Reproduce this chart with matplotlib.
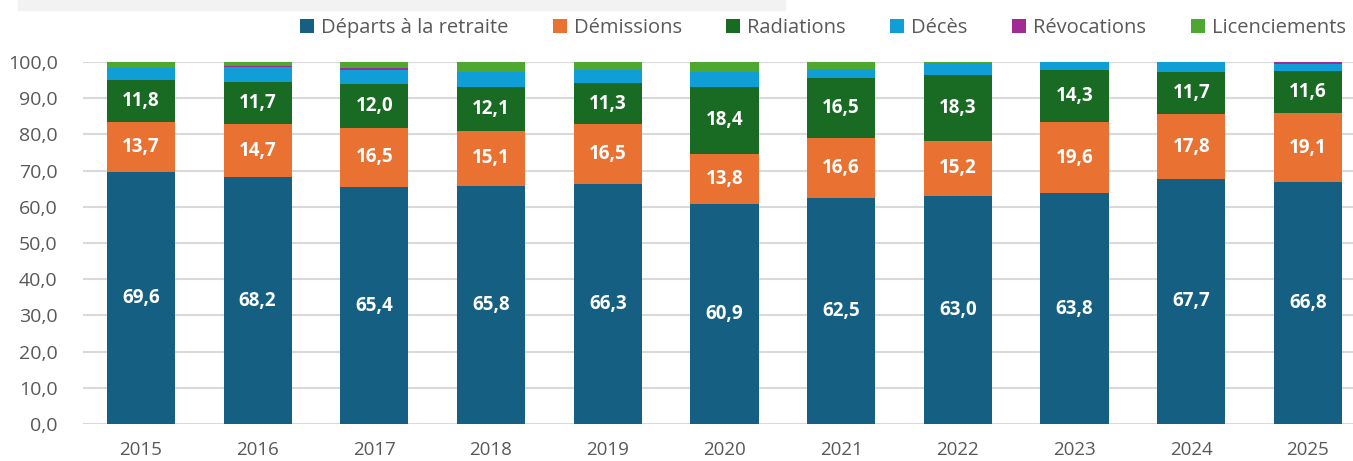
import matplotlib.pyplot as plt
import numpy as np
from matplotlib.patches import Rectangle

plt.rcParams['font.family'] = ['Open Sans', 'DejaVu Sans']

years = ['2015', '2016', '2017', '2018', '2019', '2020', '2021', '2022', '2023', '2024', '2025']
departs = [69.6, 68.2, 65.4, 65.8, 66.3, 60.9, 62.5, 63.0, 63.8, 67.7, 66.8]
demissions = [13.7, 14.7, 16.5, 15.1, 16.5, 13.8, 16.6, 15.2, 19.6, 17.8, 19.1]
radiations = [11.8, 11.7, 12.0, 12.1, 11.3, 18.4, 16.5, 18.3, 14.3, 11.7, 11.6]
deces = [3.3, 3.9, 3.9, 4.1, 3.8, 4.1, 2.5, 3.2, 2.2, 2.7, 1.9]
revocations = [0.0, 0.4, 0.5, 0.0, 0.0, 0.0, 0.0, 0.0, 0.0, 0.0, 0.6]
licenciements = [1.6, 1.1, 1.7, 2.9, 2.1, 2.8, 1.9, 0.3, 0.1, 0.1, 0.0]

series = [
    ('Départs à la retraite', departs, '#156082', True),
    ('Démissions', demissions, '#E97132', True),
    ('Radiations', radiations, '#196B24', True),
    ('Décès', deces, '#0F9ED5', False),
    ('Révocations', revocations, '#A02B93', False),
    ('Licenciements', licenciements, '#4EA72E', False),
]

fig = plt.figure(figsize=(13.53, 4.61), dpi=100)
# bandeau gris du titre (coupé)
fig.patches.append(Rectangle((18 / 1353, 1 - 10 / 461), 767 / 1353, 10 / 461,
                             transform=fig.transFigure, color='#F2F2F2', zorder=0))

ax = fig.add_axes([82.6 / 1353, 1 - 424 / 461, 1283.7 / 1353, 362 / 461])

x = np.arange(len(years))
bottom = np.zeros(len(years))
for name, vals, color, show in series:
    vals = np.array(vals)
    ax.bar(x, vals, 0.585, bottom=bottom, color=color, label=name, zorder=2)
    if show:
        for xi, b, v in zip(x, bottom, vals):
            ax.text(xi, b + v / 2, f'{v:.1f}'.replace('.', ','), ha='center', va='center',
                    color='white', fontsize=13.5, fontweight='bold', zorder=3)
    bottom += vals

ax.set_xlim(-0.5, len(years) - 0.5)
ax.set_ylim(0, 100)
ax.set_yticks(np.arange(0, 101, 10))
ax.set_yticklabels([f'{v:.1f}'.replace('.', ',') for v in np.arange(0, 101, 10)])
ax.set_xticks(x)
ax.set_xticklabels(years)
ax.tick_params(axis='both', length=0, labelsize=14, colors='#595959')
ax.tick_params(axis='x', labelsize=13.5, pad=12)
ax.tick_params(axis='y', pad=18)
ax.grid(axis='y', color='#D9D9D9', linewidth=1.5, zorder=0)
ax.set_axisbelow(True)
for s in ax.spines.values():
    s.set_visible(False)

fig.legend(loc='upper right', bbox_to_anchor=(1.008, 1.0), ncol=6, frameon=False,
           fontsize=14.5, handlelength=0.7, handleheight=0.7, handletextpad=0.35,
           columnspacing=2.2, labelcolor='#595959')

fig.savefig('out.png', dpi=100)
